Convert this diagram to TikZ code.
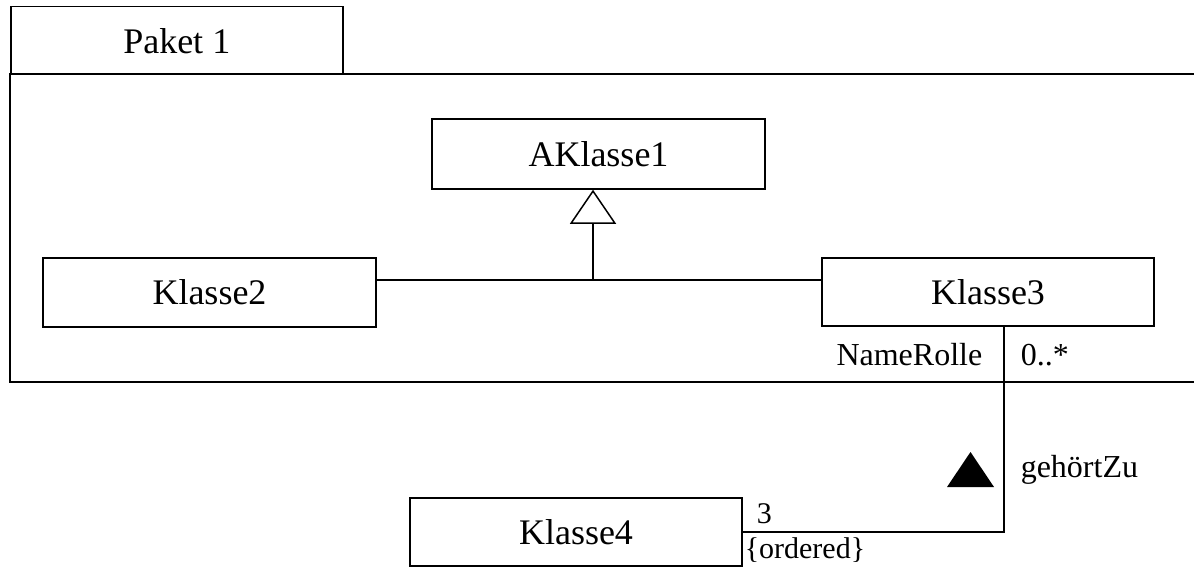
\documentclass[tikz,border=0pt]{standalone}
\usepackage{fontspec}
\setmainfont{Liberation Serif}
\usetikzlibrary{arrows.meta}
\begin{document}
\begin{tikzpicture}[x=1pt,y=-1pt,
  line width=1.5pt,
  classbox/.style={draw, line width=1.5pt, minimum width=333pt, minimum height=69pt,
    inner sep=0pt, font=\fontsize{36}{40}\selectfont},
  lbl/.style={inner sep=0pt, font=\fontsize{32}{36}\selectfont},
  smalllbl/.style={inner sep=0pt, font=\fontsize{30}{33}\selectfont},
  generalization/.style={-{Triangle[open,length=34pt,width=46pt]}}]
  \useasboundingbox (0,0) rectangle (1194,567);

  % package with its tab; the frame runs past the right edge
  \node[draw, minimum width=332pt, minimum height=68pt, inner sep=0pt,
        font=\fontsize{36}{40}\selectfont, anchor=north west] (tab) at (10,6) {Paket 1};
  \draw (1194,74) -- (10,74) -- (10,382) -- (1194,382);

  % classes
  \node[classbox, minimum height=70pt] (ak1) at (598.5,154) {AKlasse1};
  \node[classbox] (k2) at (209.5,292.5) {Klasse2};
  \node[classbox, minimum width=332pt, minimum height=68pt] (k3) at (988,292) {Klasse3};
  \node[classbox, minimum width=332pt, minimum height=68pt] (k4) at (576,532) {Klasse4};

  % generalization
  \coordinate (j) at (593,280);
  \draw (k2.east |- j) -- (k3.west |- j);
  \draw[generalization] (j) -- (ak1.south -| j);

  % association
  \coordinate (c) at (1004,532);
  \draw (k3.south -| c) -- (c) -- (k4.east);

  % association labels
  \node[lbl, anchor=east] (role) at (983,355) {NameRolle};
  \node[lbl, anchor=west] (mult) at (1020,355) {0..*};
  \node[lbl, anchor=west] (assoc) at (1020,470) {gehörtZu};
  \fill (947,487) -- (994,487) -- (970.5,452) -- cycle;
  \node[smalllbl, anchor=west] (m3) at (756,514) {3};
  \node[smalllbl, anchor=west] (ord) at (744,550) {\{ordered\}};
\end{tikzpicture}
\end{document}
